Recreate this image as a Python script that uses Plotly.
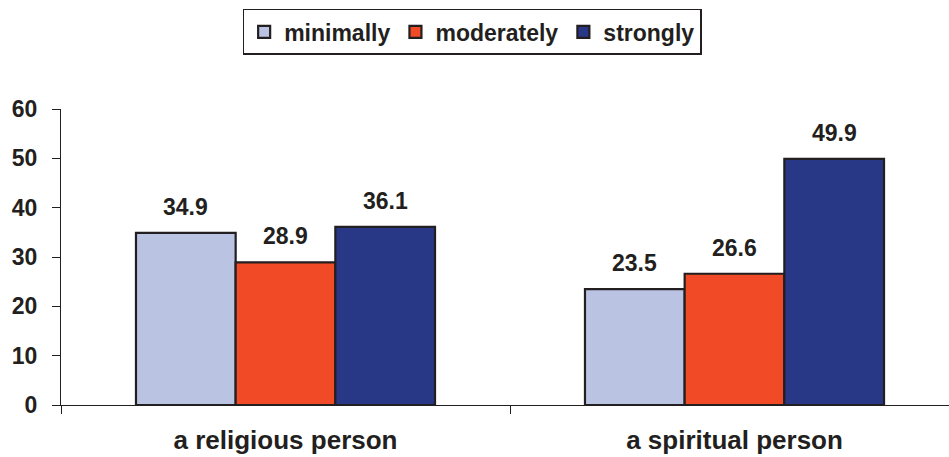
import plotly.graph_objects as go

categories = ["a religious person", "a spiritual person"]
series_names = ["minimally", "moderately", "strongly"]
minimally = [34.9, 23.5]
moderately = [28.9, 26.6]
strongly = [36.1, 49.9]
colors = ["#BAC4E2", "#F04B26", "#283886"]
y_ticks = [0, 10, 20, 30, 40, 50, 60]

values = [minimally, moderately, strongly]
font_family = "Liberation Sans, Arial, sans-serif"
ink = "#231F20"
bargap = 0.334
bw = (1 - bargap) / 3

fig = go.Figure()
for name, vals, col in zip(series_names, values, colors):
    fig.add_trace(go.Bar(
        name=name, x=categories, y=vals,
        marker=dict(color=col, line=dict(color=ink, width=2.2)),
    ))

annotations = []
for j, vals in enumerate(values):
    for i, v in enumerate(vals):
        annotations.append(dict(
            x=i + (j - 1) * bw, y=v, xref="x", yref="y",
            text="<b>%.1f</b>" % v, showarrow=False,
            yanchor="bottom", yshift=11,
            font=dict(family=font_family, size=23, color=ink),
        ))

fig.update_layout(
    width=949, height=457,
    margin=dict(l=61, r=0, t=109, b=52, autoexpand=False),
    paper_bgcolor="white", plot_bgcolor="white",
    barmode="group", bargap=bargap, bargroupgap=0,
    font=dict(family=font_family, color=ink),
    showlegend=True,
    legend=dict(
        orientation="h", x=0.463, xanchor="center", y=1.338, yanchor="top",
        bordercolor=ink, borderwidth=1.5,
        font=dict(family=font_family, size=23, color=ink, weight="bold"),
        itemwidth=30, tracegroupgap=0,
    ),
    annotations=annotations,
    xaxis=dict(
        type="category", range=[-0.5, -0.5 + 888 / 449], automargin=False,
        showline=True, linecolor=ink, linewidth=1.2,
        ticks="outside", tickson="boundaries", ticklen=8, tickcolor=ink,
        ticklabelstandoff=12,
        tickfont=dict(family=font_family, size=26, color=ink, weight="bold"),
        showgrid=False,
    ),
    yaxis=dict(
        range=[0, 60], tickvals=y_ticks, automargin=False,
        showline=True, linecolor=ink, linewidth=1.2,
        ticks="outside", ticklen=8, tickcolor=ink,
        ticklabelstandoff=10,
        tickfont=dict(family=font_family, size=23, color=ink, weight="bold"),
        showgrid=False, zeroline=False,
    ),
)

fig.write_html(
    "out.html",
    config={"displayModeBar": False},
    post_script="document.body.style.margin='0';document.body.style.overflow='hidden';",
)
